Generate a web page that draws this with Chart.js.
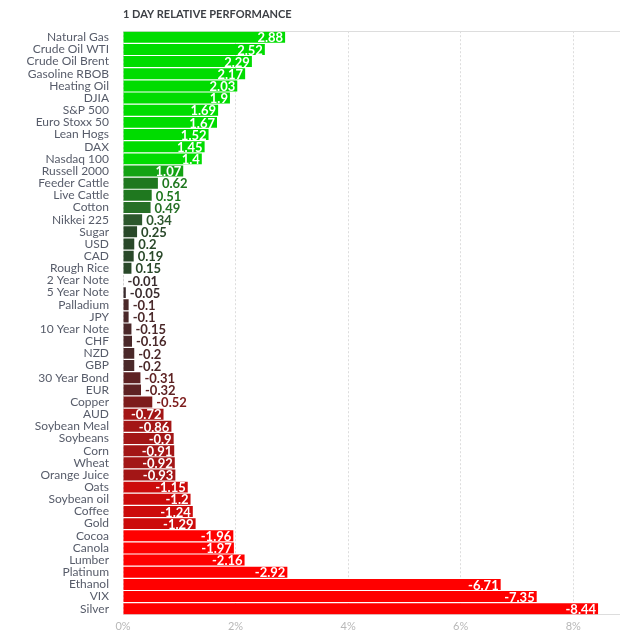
<!DOCTYPE html>
<html>
<head>
<meta charset="utf-8">
<title>1 Day Relative Performance</title>
<script src="https://cdn.jsdelivr.net/npm/chart.js@4/dist/chart.umd.min.js"></script>
<style>
  html, body { margin: 0; padding: 0; background: #fff; }
  #wrap { width: 620px; height: 640px; position: relative; }
</style>
</head>
<body>
<div id="wrap"><canvas id="perfChart"></canvas></div>
<script>
/* ------------------------------------------------------------
   Data
   ------------------------------------------------------------ */
const categories = [
    "Natural Gas", "Crude Oil WTI", "Crude Oil Brent", "Gasoline RBOB", "Heating Oil",
    "DJIA", "S&P 500", "Euro Stoxx 50", "Lean Hogs", "DAX", "Nasdaq 100",
    "Russell 2000", "Feeder Cattle", "Live Cattle", "Cotton", "Nikkei 225", "Sugar",
    "USD", "CAD", "Rough Rice", "2 Year Note", "5 Year Note", "Palladium", "JPY",
    "10 Year Note", "CHF", "NZD", "GBP", "30 Year Bond", "EUR", "Copper", "AUD",
    "Soybean Meal", "Soybeans", "Corn", "Wheat", "Orange Juice", "Oats", "Soybean oil",
    "Coffee", "Gold", "Cocoa", "Canola", "Lumber", "Platinum", "Ethanol", "VIX", "Silver"
];

const changes = [
    2.88, 2.52, 2.29, 2.17, 2.03,
    1.9, 1.69, 1.67, 1.52, 1.45, 1.4,
    1.07, 0.62, 0.51, 0.49, 0.34, 0.25,
    0.2, 0.19, 0.15, -0.01, -0.05, -0.1, -0.1,
    -0.15, -0.16, -0.2, -0.2, -0.31, -0.32, -0.52, -0.72,
    -0.86, -0.9, -0.91, -0.92, -0.93, -1.15, -1.2,
    -1.24, -1.29, -1.96, -1.97, -2.16, -2.92, -6.71, -7.35, -8.44
];

const xTicks = [0, 2, 4, 6, 8];
const xMax = 8.83;

/* ------------------------------------------------------------
   Colour by performance bucket
   ------------------------------------------------------------ */
function perfColor(v) {
    if (v >= 1.3) return "#00dc00";
    if (v >= 1) return "#13a313";
    if (v >= 0.5) return "#1f781f";
    if (v >= 0.4) return "#277027";
    if (v >= 0.3) return "#2d572d";
    if (v >= 0) return "#294829";
    if (v > -0.06) return "#3a2c2e";
    if (v > -0.25) return "#4a2829";
    if (v > -0.5) return "#5e2223";
    if (v > -0.7) return "#7d1c1c";
    if (v > -1) return "#a31616";
    if (v > -1.5) return "#cc0b0b";
    return "#ff0000";
}

/* ------------------------------------------------------------
   Value labels (inside for big bars, outside for small ones)
   ------------------------------------------------------------ */
const valueLabels = {
    id: "valueLabels",
    afterDatasetsDraw(chart) {
        const { ctx } = chart;
        const meta = chart.getDatasetMeta(0);
        ctx.save();
        ctx.font = "bold 13px Lato";
        ctx.textBaseline = "middle";
        meta.data.forEach((bar, i) => {
            const v = changes[i];
            const txt = String(v);
            if (Math.abs(v) >= 0.7) {
                ctx.fillStyle = "#ffffff";
                ctx.textAlign = "right";
                ctx.fillText(txt, bar.x - 2, bar.y + 1);
            } else {
                ctx.fillStyle = perfColor(v);
                ctx.textAlign = "left";
                ctx.fillText(txt, bar.x + 4, bar.y + 1);
            }
        });
        ctx.restore();
    }
};

/* ------------------------------------------------------------
   Chart
   ------------------------------------------------------------ */
new Chart(document.getElementById("perfChart"), {
    type: "bar",
    data: {
        labels: categories,
        datasets: [{
            data: changes.map(v => Math.abs(v)),
            backgroundColor: ctx => perfColor(changes[ctx.dataIndex]),
            borderWidth: 0,
            barPercentage: 0.9,
            categoryPercentage: 1
        }]
    },
    options: {
        indexAxis: "y",
        responsive: true,
        maintainAspectRatio: false,
        animation: false,
        layout: { padding: { top: 5, right: 0, left: 0, bottom: 2 } },
        plugins: {
            legend: { display: false },
            tooltip: { enabled: false },
            title: {
                display: true,
                text: "1 DAY RELATIVE PERFORMANCE",
                align: "start",
                fullSize: false,
                color: "#3c3f45",
                font: { family: "Lato", size: 11, weight: "bold" },
                padding: { top: 3, bottom: 10 }
            }
        },
        scales: {
            x: {
                min: 0,
                max: xMax,
                afterBuildTicks: axis => { axis.ticks = xTicks.map(v => ({ value: v })); },
                ticks: {
                    callback: v => v + "%",
                    color: "#b8b8b8",
                    font: { family: "Lato", size: 11 },
                    padding: 5
                },
                grid: { color: "#dddddd", drawTicks: false, tickBorderDash: [2, 2] },
                border: { display: true, dash: [2, 2], color: "#dddddd" }
            },
            xTop: {
                position: "top",
                axis: "x",
                min: 0,
                max: xMax,
                ticks: { display: false },
                grid: { drawOnChartArea: false, drawTicks: false },
                border: { display: true, dash: [2, 2], color: "#dddddd" }
            },
            y: {
                afterFit: axis => { axis.width = 123; },
                ticks: {
                    color: "#575c6a",
                    font: { family: "Lato", size: 12 },
                    padding: 6,
                    autoSkip: false
                },
                grid: { display: false },
                border: { display: false }
            }
        }
    },
    plugins: [valueLabels]
});
</script>
</body>
</html>
